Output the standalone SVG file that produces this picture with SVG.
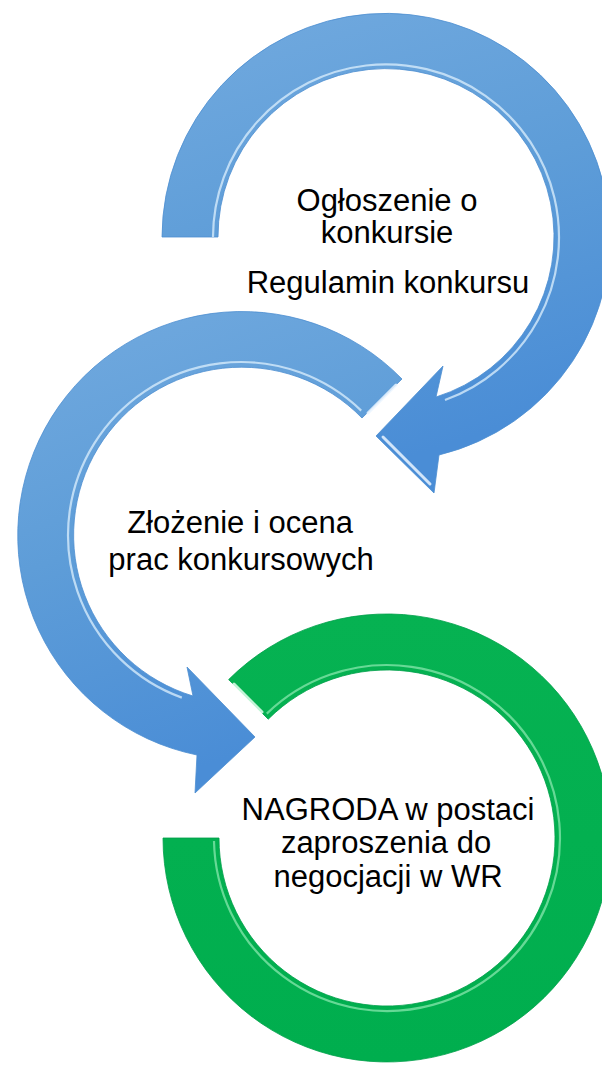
<svg xmlns="http://www.w3.org/2000/svg" width="602" height="1065" viewBox="0 0 602 1065">
<defs>
<linearGradient id="blueG" x1="0" y1="0" x2="0.3" y2="1">
<stop offset="0" stop-color="#72AADF"/>
<stop offset="0.5" stop-color="#5E9DD8"/>
<stop offset="1" stop-color="#4A8DD6"/>
</linearGradient>
<linearGradient id="greenG" x1="0" y1="0" x2="0" y2="1">
<stop offset="0" stop-color="#06B252"/>
<stop offset="1" stop-color="#00AE4E"/>
</linearGradient>
<style>
.blue{fill:url(#blueG);stroke:#4C8ED0;stroke-width:0.8}
.green{fill:url(#greenG);stroke:#00A04A;stroke-width:0.8}
.hlb{fill:none;stroke:#D6EBFB;stroke-width:2.2;opacity:0.8}
.hlg{fill:none;stroke:#7FE3A8;stroke-width:2.2;opacity:0.8}
.bevb{fill:none;stroke:#EAF5FF;stroke-width:3;stroke-linecap:round;opacity:0.85}
.bevg{fill:none;stroke:#E6FFF0;stroke-width:3;stroke-linecap:round;opacity:0.85}
.lbl{font-family:"Liberation Sans",Arial,sans-serif;font-size:31px;fill:#000;text-anchor:middle}
</style>
</defs>
<rect width="602" height="1065" fill="#FFFFFF"/>

<g id="node-nagroda">
<path class="green" d="M228.6,679.6 A224,224 0 1 1 163,838 L219,838 A168,168 0 1 0 268.2,719.2 Z"/>
<path class="hlg" d="M266.8,713.6 A173,173 0 1 1 214,841"/>
<path class="bevg" d="M234,684 L262,712"/>
<text class="lbl" x="388" y="820">NAGRODA w postaci</text>
<text class="lbl" x="386" y="853">zaproszenia do</text>
<text class="lbl" x="388" y="887">negocjacji w WR</text>
</g>

<g id="node-zlozenie">
<path class="blue" d="M402,379 A224,224 0 1 0 197,755 L195,793 L255,737 L187,667 L193,696 A168,168 0 1 1 362,418 Z"/>
<path class="hlb" d="M361.2,410.6 A173,173 0 1 0 181.8,697.6"/>
<path class="bevb" d="M396,385 L368,413"/>
<text class="lbl" x="240" y="533">Złożenie i ocena</text>
<text class="lbl" x="241" y="570">prac konkursowych</text>
</g>

<g id="node-ogloszenie">
<path class="blue" d="M162,237 A224,224 0 1 1 439,455 L434,493 L376,436 L443,366 L436,397 A168,168 0 1 0 218,237 Z"/>
<path class="hlb" d="M213,237 A173,173 0 1 1 445,400"/>
<path class="bevb" d="M383,437 L430,484"/>
<text class="lbl" x="387" y="211">Ogłoszenie o</text>
<text class="lbl" x="387" y="243">konkursie</text>
<text class="lbl" x="388" y="293">Regulamin konkursu</text>
</g>

<g id="connectors"/>
</svg>
